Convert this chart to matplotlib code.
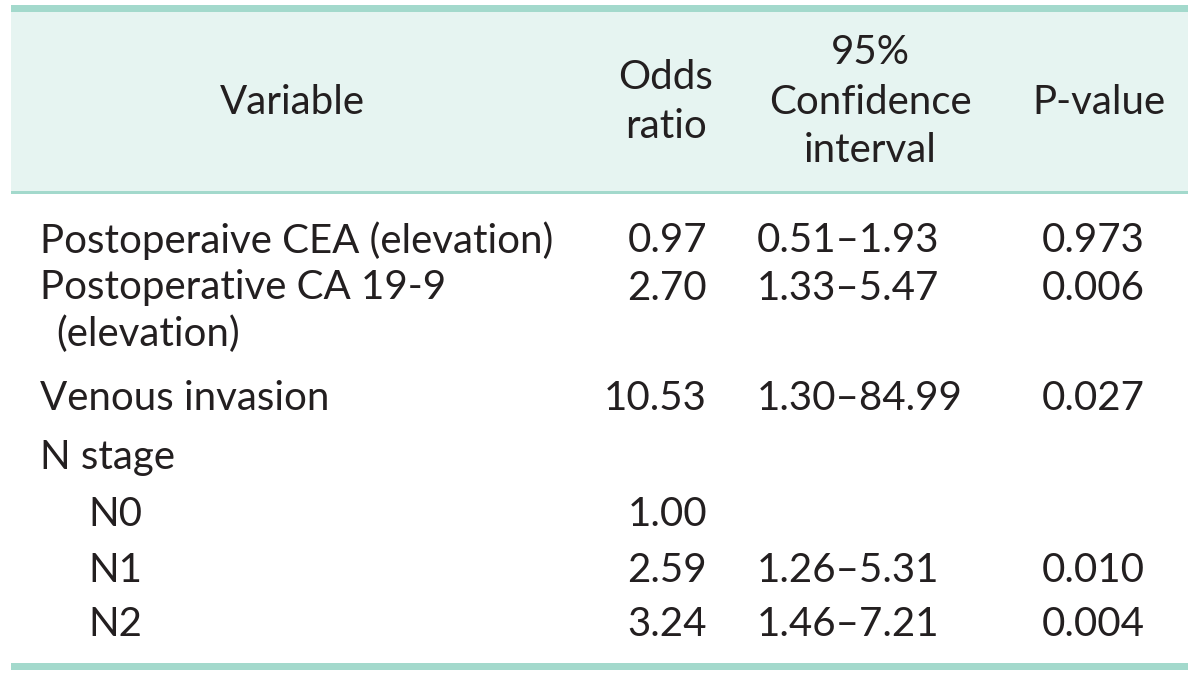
import matplotlib
matplotlib.use("Agg")
import matplotlib.pyplot as plt
from matplotlib.patches import Rectangle

# ---- data ----
header_variable = ["Variable"]
header_or = ["Odds", "ratio"]
header_ci = ["95%", "Confidence", "interval"]
header_p = ["P-value"]

variables = [["Postoperaive CEA (elevation)"],
             ["Postoperative CA 19-9", "(elevation)"],
             ["Venous invasion"], ["N stage"], ["N0"], ["N1"], ["N2"]]
indent_level = [0, 0, 0, 0, 1, 1, 1]
odds_ratios = ["0.97", "2.70", "10.53", "", "1.00", "2.59", "3.24"]
conf_intervals = ["0.51\u20131.93", "1.33\u20135.47", "1.30\u201384.99", "", "", "1.26\u20135.31", "1.46\u20137.21"]
p_values = ["0.973", "0.006", "0.027", "", "", "0.010", "0.004"]

# ---- layout ----
W, H = 1200, 677
fig = plt.figure(figsize=(W / 100, H / 100), dpi=100)
ax = fig.add_axes([0, 0, 1, 1])
ax.set_xlim(0, W)
ax.set_ylim(H, 0)
ax.axis("off")

line_c = "#a3d9cc"
fill_c = "#e6f4f1"
txt_c = "#231f20"
font = "Lato"
fs = 29

x0, x1 = 11, 1188
ax.add_patch(Rectangle((x0, 12), x1 - x0, 180, facecolor=fill_c, edgecolor="none"))
ax.add_patch(Rectangle((x0, 5), x1 - x0, 7, facecolor=line_c, edgecolor="none"))
ax.add_patch(Rectangle((x0, 191), x1 - x0, 3, facecolor=line_c, edgecolor="none"))
ax.add_patch(Rectangle((x0, 663), x1 - x0, 7, facecolor=line_c, edgecolor="none"))

kw = dict(fontsize=fs, family=font, color=txt_c, va="center")
lh = 49


def header(x, lines):
    n = len(lines)
    for i, s in enumerate(lines):
        ax.text(x, 102 + (i - (n - 1) / 2) * lh, s, ha="center", **kw)


header(292, header_variable)
header(666, header_or)
header(870, header_ci)
header(1099, header_p)

row_y = [241, 288, 398, 458, 515, 571, 625]
for y, v, lvl, o, c, p in zip(row_y, variables, indent_level, odds_ratios, conf_intervals, p_values):
    for i, s in enumerate(v):
        x = 40 + lvl * 48 + (16 if i > 0 else 0)
        ax.text(x, y + i * 46, s, ha="left", **kw)
    ax.text(707, y, o, ha="right", **kw)
    ax.text(757, y, c, ha="left", **kw)
    ax.text(1145, y, p, ha="right", **kw)

fig.savefig("out.png", dpi=100)
